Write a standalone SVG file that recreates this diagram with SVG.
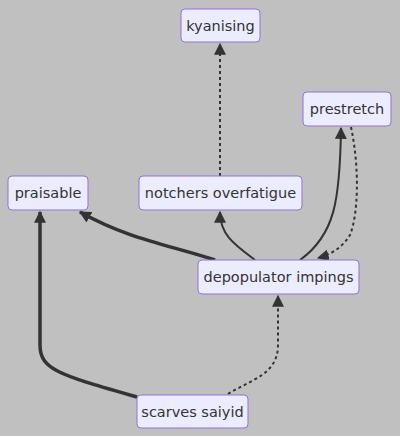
<svg xmlns="http://www.w3.org/2000/svg" width="400" height="436" viewBox="0 0 400 436">
<style>
.bg{fill:#c0c0c0}
.node rect{fill:#ececff;stroke:#9370db;stroke-width:1}
.node text{font-family:"DejaVu Sans",sans-serif;font-size:14.5px;fill:#333;text-anchor:middle;dominant-baseline:central}
.e{fill:none;stroke:#333}
.n{stroke-width:2}
.t{stroke-width:3.5}
.d{stroke-width:2;stroke-dasharray:3 3}
</style>
<defs>
<marker id="a" viewBox="0 0 10 10" refX="9" refY="5" markerUnits="userSpaceOnUse" markerWidth="12" markerHeight="12" orient="auto">
<path d="M0,0L10,5L0,10z" fill="#333"/>
</marker>
</defs>
<rect class="bg" width="400" height="436"/>
<g id="edges">
<path class="e t" d="M215,260 C170,245 130,240 80,212" marker-end="url(#a)"/>
<path class="e n" d="M255,260 C235,245 220,235 220,212" marker-end="url(#a)"/>
<path class="e n" d="M300,260 C335,235 340,200 341,128" marker-end="url(#a)"/>
<path class="e d" d="M351,127 C360,170 358,215 350,235 C342,248 330,255 318,258" marker-end="url(#a)"/>
<path class="e d" d="M220,176 L220,44" marker-end="url(#a)"/>
<path class="e t" d="M137,397 C60,375 40,370 40,345 L40,212" marker-end="url(#a)"/>
<path class="e d" d="M228,394 C250,380 278,375 278,345 L278,296" marker-end="url(#a)"/>
</g>
<g id="kyanising" class="node"><rect x="181" y="9" width="79" height="33" rx="4"/><text x="220.5" y="25.5">kyanising</text></g>
<g id="prestretch" class="node"><rect x="303" y="92" width="88" height="34" rx="4"/><text x="347" y="109">prestretch</text></g>
<g id="praisable" class="node"><rect x="8" y="176" width="80" height="34" rx="4"/><text x="48" y="193">praisable</text></g>
<g id="notchers" class="node"><rect x="139" y="176" width="163" height="34" rx="4"/><text x="220.5" y="193">notchers overfatigue</text></g>
<g id="depopulator" class="node"><rect x="198" y="260" width="161" height="34" rx="4"/><text x="278.5" y="277">depopulator impings</text></g>
<g id="scarves" class="node"><rect x="137" y="395" width="111" height="33" rx="4"/><text x="192.5" y="411.5">scarves saiyid</text></g>
</svg>
